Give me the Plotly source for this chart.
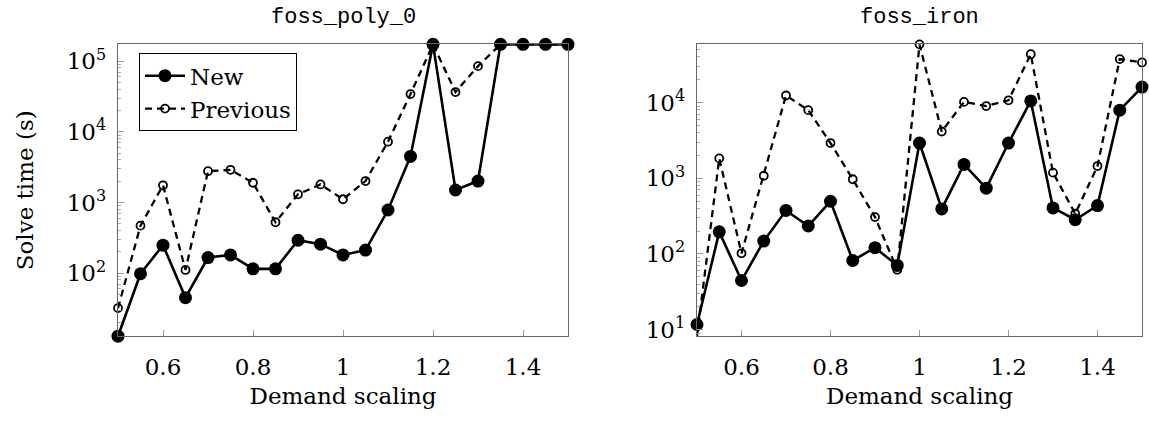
import plotly.graph_objects as go
import numpy as np

demand = [0.5, 0.55, 0.6, 0.65, 0.7, 0.75, 0.8, 0.85, 0.9, 0.95, 1.0,
          1.05, 1.1, 1.15, 1.2, 1.25, 1.3, 1.35, 1.4, 1.45, 1.5]

poly_new = [12.8, 98, 249, 45, 166, 181, 115, 115, 292, 257, 181,
            212, 782, 4480, 172800, 1500, 2010, 172800, 172800, 172800, 172800]
poly_prev = [32, 470, 1750, 111, 2770, 2900, 1900, 525, 1306, 1800, 1110,
             2010, 7250, 34200, 172800, 36500, 85000, 172800, 172800, 172800, 172800]

iron_new = [11.7, 196, 44.6, 148, 376, 234, 497, 82, 121, 70.6, 2920,
            394, 1525, 741, 2920, 10500, 406, 283, 436, 7940, 16000]
iron_prev = [8.2, 1830, 102, 1080, 12400, 7940, 2920, 970, 307, 62, 58700,
             4150, 10200, 9000, 10700, 43500, 1186, 340, 1450, 37500, 33900]

titles = ["foss_poly_0", "foss_iron"]
x_ticks = [0.6, 0.8, 1.0, 1.2, 1.4]
x_ticktext = ["0.6", "0.8", "1", "1.2", "1.4"]

W, H = 1149, 427
SERIF = "DejaVu Serif"
MONO = "Liberation Mono"
FS = 23

fig = go.Figure()

panels = [
    (poly_new, poly_prev, "x", "y", (118, 568)),
    (iron_new, iron_prev, "x2", "y2", (697, 1142)),
]
top_px, bot_px = 45, 341
ydom = [(H - bot_px) / H, (H - top_px) / H]

for i, (new, prev, xa, ya, (l, r)) in enumerate(panels):
    fig.add_trace(go.Scatter(
        x=demand, y=prev, xaxis=xa, yaxis=ya, name="Previous",
        mode="lines+markers", cliponaxis=False, showlegend=(i == 0),
        line=dict(color="black", width=2.3, dash="7px,5px"),
        marker=dict(symbol="circle-open", size=8, color="black",
                    line=dict(width=1.8, color="black")),
        legendrank=2,
    ))
    fig.add_trace(go.Scatter(
        x=demand, y=new, xaxis=xa, yaxis=ya, name="New",
        mode="lines+markers", cliponaxis=False, showlegend=(i == 0),
        line=dict(color="black", width=2.6),
        marker=dict(symbol="circle", size=13, color="black"),
        legendrank=1,
    ))

    allv = new + prev
    yr = [np.log10(min(allv)), np.log10(max(allv))]
    dec = list(range(int(np.ceil(yr[0])), int(np.floor(yr[1])) + 1))
    xdom = [l / W, r / W]
    sx = "" if i == 0 else "2"
    fig.layout["xaxis" + sx] = dict(
        domain=xdom, range=[0.5, 1.5], anchor="y" + sx,
        tickvals=x_ticks, ticktext=x_ticktext,
        ticks="inside", ticklen=6, tickcolor="#999", tickwidth=1,
        ticklabelstandoff=10,
        showline=True, linecolor="#666", linewidth=1.3, mirror=True,
        showgrid=False, zeroline=False,
        tickfont=dict(family=SERIF, size=FS, color="black"),
        title=dict(text="Demand scaling", font=dict(family=SERIF, size=FS, color="black"),
                   standoff=8),
    )
    fig.layout["yaxis" + sx] = dict(
        domain=ydom, type="log", range=yr, anchor="x" + sx,
        tickvals=[10 ** d for d in dec],
        ticktext=["10<sup>%d</sup>" % d for d in dec],
        ticks="inside", ticklen=6, tickcolor="#999", tickwidth=1,
        ticklabelstandoff=6,
        minor=dict(ticks="inside", ticklen=3, tickcolor="#aaa", tickwidth=1,
                   tickvals=[m * 10 ** d for d in range(int(np.floor(yr[0])), int(np.ceil(yr[1])) + 1)
                             for m in range(2, 10) if yr[0] <= np.log10(m * 10 ** d) <= yr[1]]),
        showline=True, linecolor="#666", linewidth=1.3, mirror=True,
        showgrid=False, zeroline=False,
        tickfont=dict(family=SERIF, size=FS, color="black"),
    )
    fig.add_annotation(
        text=titles[i], xref="paper", yref="paper",
        x=(xdom[0] + xdom[1]) / 2, y=(H - 18) / H, xanchor="center", yanchor="middle",
        showarrow=False, font=dict(family=MONO, size=22, color="black"),
    )

fig.layout.yaxis.title = dict(text="Solve time (s)", font=dict(family=SERIF, size=FS, color="black"),
                              standoff=26)

fig.update_layout(
    width=W, height=H, margin=dict(l=0, r=0, t=0, b=0),
    paper_bgcolor="white", plot_bgcolor="white",
    legend=dict(x=139 / W, y=(H - 54) / H, xanchor="left", yanchor="top",
                bordercolor="black", borderwidth=1, bgcolor="white",
                font=dict(family=SERIF, size=FS, color="black"),
                tracegroupgap=0, itemwidth=40),
    showlegend=True,
)

fig.write_html("out.html")
